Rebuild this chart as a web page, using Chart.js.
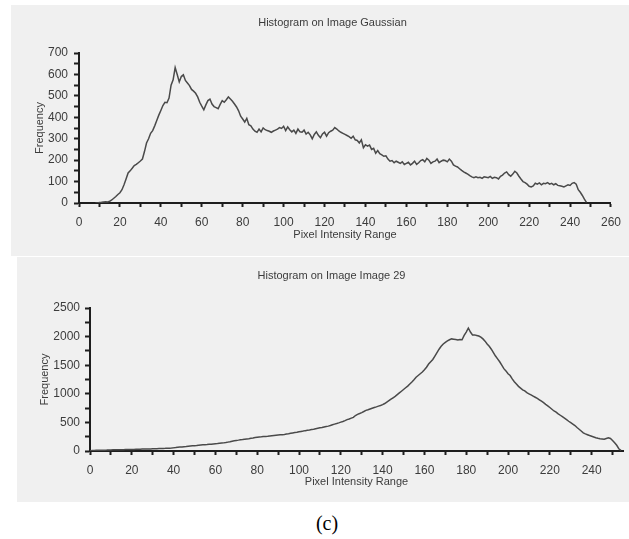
<!DOCTYPE html>
<html><head><meta charset="utf-8">
<script src="https://cdn.jsdelivr.net/npm/chart.js@4.4.1/dist/chart.umd.min.js"></script>
<style>
html,body{margin:0;padding:0;background:#fff;overflow:hidden;width:629px;height:539px;position:relative}
canvas{position:absolute;background:#f0f0f0}
#cap{position:absolute;left:277px;width:100px;top:512px;line-height:24px;text-align:center;font:20px "Liberation Serif","Times New Roman",serif;color:#000}
</style></head><body>
<canvas id="c1" width="618" height="251" style="left:11px;top:5px"></canvas>
<canvas id="c2" width="612" height="245" style="left:17px;top:257px"></canvas>
<div id="cap">(c)</div>
<script>
// ---------- data ----------
const topTitle = 'Histogram on Image Gaussian';
const bottomTitle = 'Histogram on Image Image 29';
const xAxisTitle = 'Pixel Intensity Range';
const yAxisTitle = 'Frequency';

const gaussStart = 8; // intensity of first value
const gaussFreq = [
  0,0,2,3,5,6,5,8,14,22,30,40,
  48,62,85,112,140,150,162,175,180,188,
  196,205,240,280,300,325,338,360,385,410,
  432,455,470,468,490,550,575,632,600,565,
  590,598,572,560,548,530,522,512,495,470,
  452,435,458,478,485,462,450,445,440,460,
  478,470,482,495,485,475,462,448,430,405,
  392,378,395,365,360,345,335,330,345,332,
  350,342,338,335,330,336,340,345,352,348,
  358,338,355,342,332,340,325,345,332,330,
  340,322,330,318,300,320,332,316,305,322,
  330,312,328,335,340,352,345,336,330,325,
  320,315,310,302,312,295,292,280,295,258,
  272,265,270,250,255,232,245,230,225,218,
  220,205,195,198,188,195,190,185,192,180,
  185,190,178,185,195,180,188,198,202,192,
  208,200,185,192,195,205,188,195,200,198,
  192,205,195,178,172,168,160,152,145,140,
  135,128,122,118,122,118,120,115,122,120,
  118,124,115,120,118,112,125,130,140,145,
  132,125,135,148,140,125,112,100,95,88,
  78,75,80,92,88,94,85,92,90,95,
  88,92,85,90,82,80,78,75,80,85,
  82,92,95,88,62,50,35,18,3
];
const gaussIntensity = gaussFreq.map((_, i) => gaussStart + i);

const img29Start = 0;
const img29Freq = [
  0,8,10,12,12,14,15,15,16,18,
  18,20,20,22,22,24,24,25,26,27,
  28,28,30,30,32,33,34,35,36,36,
  38,40,40,42,44,45,46,48,50,52,
  55,60,66,70,72,75,78,82,86,90,
  92,95,100,104,108,110,112,116,120,124,
  128,130,134,138,142,148,155,162,170,178,
  185,190,196,200,205,210,215,222,228,235,
  240,245,248,252,255,258,262,266,270,274,
  278,282,286,290,296,302,310,316,322,328,
  335,342,348,356,362,368,375,382,390,398,
  405,412,420,428,435,445,460,470,480,492,
  505,515,530,548,560,575,588,620,640,655,
  672,690,710,720,735,748,760,772,785,795,
  810,830,855,880,905,930,955,985,1015,1045,
  1075,1105,1135,1170,1205,1245,1290,1320,1350,1380,
  1420,1465,1520,1560,1600,1660,1720,1780,1830,1870,
  1900,1925,1945,1960,1955,1950,1940,1950,1945,2020,
  2080,2150,2080,2030,2030,2020,2010,1990,1960,1920,
  1870,1830,1780,1720,1660,1610,1560,1500,1440,1400,
  1350,1320,1260,1210,1170,1130,1100,1070,1050,1020,
  1000,980,960,940,920,895,870,845,815,790,
  760,730,700,680,650,625,600,575,548,520,
  495,470,445,410,380,350,318,300,285,270,
  258,245,232,222,215,210,205,218,230,220,
  185,145,100,40,10
];
const img29Intensity = img29Freq.map((_, i) => img29Start + i);

const topXTicks = [0,10,20,30,40,50,60,70,80,90,100,110,120,130,140,150,160,170,180,190,200,210,220,230,240,250,260];
const topYTicks = [0,50,100,150,200,250,300,350,400,450,500,550,600,650,700];
const botXTicks = [0,10,20,30,40,50,60,70,80,90,100,110,120,130,140,150,160,170,180,190,200,210,220,230,240,250];
const botYTicks = [0,250,500,750,1000,1250,1500,1750,2000,2250,2500];

// ---------- style ----------
const FONT = '"Liberation Sans", Arial, sans-serif';
const TEXT = '#3c3c3c';
const AXIS = '#1e1e1e';
const LINE = '#4a4a4a';

const panelTitle = {
  id: 'panelTitle',
  afterDraw(chart, args, o) {
    const ctx = chart.ctx;
    ctx.save();
    ctx.font = '11px ' + FONT;
    ctx.fillStyle = TEXT;
    ctx.textAlign = 'center';
    ctx.textBaseline = 'middle';
    ctx.fillText(o.text, o.x, o.y);
    ctx.restore();
  }
};

function build(id, c) {
  return new Chart(document.getElementById(id), {
    type: 'line',
    data: { datasets: [{
      data: c.xs.map((v, i) => ({ x: v, y: c.ys[i] })),
      borderColor: LINE, borderWidth: 1.5, pointRadius: 0, fill: false, tension: 0
    }]},
    plugins: [panelTitle],
    options: {
      responsive: false, animation: false, devicePixelRatio: 1,
      layout: { padding: { left: 0, right: c.W - c.right, top: c.top, bottom: 0 } },
      plugins: {
        legend: { display: false }, tooltip: { enabled: false }, title: { display: false },
        panelTitle: { text: c.title, x: c.tx, y: c.ty }
      },
      scales: {
        x: {
          type: 'linear', min: 0, max: c.xMax,
          afterFit: s => { s.height = c.H - c.bottom; },
          afterBuildTicks: s => { s.ticks = c.xTicks.map(v => ({ value: v })); },
          ticks: { autoSkip: false, maxRotation: 0, padding: c.xPad, color: TEXT,
            font: { family: FONT, size: 12 },
            callback: v => (v % 20 === 0 && v <= c.xLabelMax) ? String(v) : '' },
          grid: { drawOnChartArea: false, drawTicks: true, tickLength: 4, tickColor: AXIS, tickWidth: 2 },
          border: { display: true, color: AXIS, width: 2 },
          title: { display: true, text: xAxisTitle, color: TEXT, font: { family: FONT, size: 11 },
            padding: { top: c.xTitlePad, bottom: c.xTitlePad } }
        },
        y: {
          min: 0, max: c.yMax,
          afterFit: s => { s.width = c.left; },
          afterBuildTicks: s => { s.ticks = c.yTicks.map(v => ({ value: v })); },
          ticks: { autoSkip: false, padding: c.yPad, color: TEXT, font: { family: FONT, size: 12 },
            callback: v => (v % c.yLabelStep === 0) ? String(v) : '' },
          grid: { drawOnChartArea: false, drawTicks: true, tickLength: 5, tickColor: AXIS, tickWidth: 2 },
          border: { display: true, color: AXIS, width: 2 },
          title: { display: true, text: yAxisTitle, color: TEXT, font: { family: FONT, size: 11 },
            padding: { top: c.yTitlePad, bottom: c.yTitlePad } }
        }
      }
    }
  });
}

build('c1', {
  W: 618, H: 251, left: 68, right: 610, top: 48, bottom: 198,
  xs: gaussIntensity, ys: gaussFreq, xMax: 260, yMax: 700,
  xTicks: topXTicks, yTicks: topYTicks, xLabelMax: 260, yLabelStep: 100,
  title: topTitle, tx: 321.5, ty: 18,
  xPad: 8, yPad: 6, xTitlePad: 14, yTitlePad: 22
});

build('c2', {
  W: 612, H: 245, left: 73, right: 606, top: 51, bottom: 194,
  xs: img29Intensity, ys: img29Freq, xMax: 255, yMax: 2500,
  xTicks: botXTicks, yTicks: botYTicks, xLabelMax: 240, yLabelStep: 500,
  title: bottomTitle, tx: 314.5, ty: 19,
  xPad: 8, yPad: 5, xTitlePad: 13, yTitlePad: 21
});
</script>
</body></html>
